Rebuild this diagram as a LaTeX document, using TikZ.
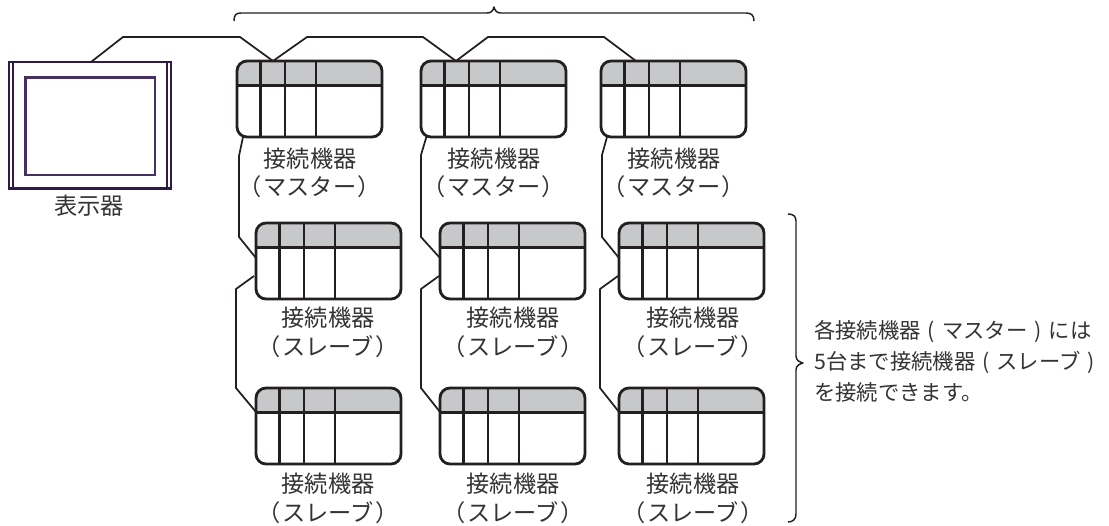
\documentclass[tikz,border=0pt]{standalone}
\usepackage{fontspec}
\setmainfont{Noto Sans CJK JP}
\definecolor{ink}{HTML}{231F20}
\definecolor{txt}{HTML}{333333}
\definecolor{band}{HTML}{C6C8CA}
\definecolor{frame}{HTML}{2E1A47}
\definecolor{framein}{HTML}{45305F}
\tikzset{
  x=0.75pt,y=-0.75pt,
  boxline/.style={draw=ink,line width=2.1pt},
  cellline/.style={draw=ink,line width=1.8pt},
  wire/.style={draw=ink,line width=1.3pt,line join=round},
  brace/.style={draw=ink,line width=1.1pt,line join=round},
  devshape/.style={rectangle,minimum width=108.75pt,minimum height=57pt,inner sep=0pt,outer sep=0pt},
  lbl/.style={font=\fontsize{17.4}{20}\selectfont,text=txt,inner sep=0pt,anchor=center},
  note/.style={font=\fontsize{16}{18}\selectfont,text=txt,inner sep=0pt,anchor=west},
}
\newcommand{\notegap}{\hspace{5.25pt}}
\newcommand{\lblgap}{\kern1.1pt{}}
% name, left x, top y
\newcommand{\devbox}[3]{%
  \node[devshape,anchor=north west] (#1) at (#2,#3) {};
  \begin{scope}[shift={(#2,#3)}]
    \begin{scope}
      \clip (0,0) rectangle (145,24.5);
      \fill[band,rounded corners=7.5pt] (0,0) rectangle (145,76);
    \end{scope}
    \draw[cellline] (0,24.5) -- (145,24.5);
    \draw[cellline] (23.5,0) -- (23.5,76);
    \draw[cellline] (48,0) -- (48,76);
    \draw[cellline] (79,0) -- (79,76);
    \draw[boxline,rounded corners=7.5pt] (0,0) rectangle (145,76);
  \end{scope}}
\begin{document}
\begin{tikzpicture}
\useasboundingbox (0,0) rectangle (1109,525);
\fill[white] (0,0) rectangle (1109,525);

% display
\node[rectangle,minimum width=121.5pt,minimum height=95.25pt,inner sep=0pt,outer sep=0pt,anchor=north west] (disp) at (9,62) {};
\draw[frame,line width=1.3pt] (9,62) rectangle (171,189);
\draw[frame,line width=2pt] (9,62) -- (171,62) (9,188.5) -- (171,188.5);
\draw[frame,line width=1pt] (13,62) -- (13,189) (167,62) -- (167,189);
\draw[framein,line width=2.2pt] (25.5,77.5) rectangle (155,175);
\node[lbl] (dispL) at (89,206) {表示器};

% devices
\devbox{m1}{237}{61}
\devbox{m2}{421}{61}
\devbox{m3}{601}{61}
\devbox{sa1}{256}{223}
\devbox{sa2}{440}{223}
\devbox{sa3}{619}{223}
\devbox{sb1}{256}{388}
\devbox{sb2}{440}{388}
\devbox{sb3}{619}{388}

% labels
\node[lbl] (m1a) at (310,159) {接続機器};
\node[lbl] (m1b) at (310,187) {（\lblgap マスター\lblgap ）};
\node[lbl] (m2a) at (494,159) {接続機器};
\node[lbl] (m2b) at (494,187) {（\lblgap マスター\lblgap ）};
\node[lbl] (m3a) at (674,159) {接続機器};
\node[lbl] (m3b) at (674,187) {（\lblgap マスター\lblgap ）};
\node[lbl] (sa1a) at (328,318) {接続機器};
\node[lbl] (sa1b) at (328,347) {（\lblgap スレーブ\lblgap ）};
\node[lbl] (sa2a) at (513,318) {接続機器};
\node[lbl] (sa2b) at (513,347) {（\lblgap スレーブ\lblgap ）};
\node[lbl] (sa3a) at (693,318) {接続機器};
\node[lbl] (sa3b) at (693,347) {（\lblgap スレーブ\lblgap ）};
\node[lbl] (sb1a) at (328,484) {接続機器};
\node[lbl] (sb1b) at (328,513) {（\lblgap スレーブ\lblgap ）};
\node[lbl] (sb2a) at (513,484) {接続機器};
\node[lbl] (sb2b) at (513,513) {（\lblgap スレーブ\lblgap ）};
\node[lbl] (sb3a) at (693,484) {接続機器};
\node[lbl] (sb3b) at (693,513) {（\lblgap スレーブ\lblgap ）};

% bus along the top
\draw[wire] ([xshift=61.5pt]disp.north west) -- (123,37) -- (240,37) -- ([xshift=27pt]m1.north west)
  -- (307,37) -- (423,37) -- ([xshift=26.25pt]m2.north west)
  -- (488,37) -- (604,37) -- ([xshift=26.25pt]m3.north west);

% master to first slave
\draw[wire] ([xshift=4.5pt]m1.south west) -- (239,156) -- (239,237) -- ([yshift=2.25pt]sa1.west);
\draw[wire] ([xshift=4pt]m2.south west) -- (421,155) -- (421,237) -- ([yshift=2.25pt]sa2.west);
\draw[wire] ([xshift=4.5pt]m3.south west) -- (602,155) -- (602,237) -- ([yshift=2.25pt]sa3.west);
% first slave to second slave
\draw[wire] ([xshift=-1.5pt,yshift=-11.25pt]sa1.west) -- (236,289) -- (236,388) -- ([yshift=10.5pt]sb1.west);
\draw[wire] ([xshift=-0.75pt,yshift=-11.25pt]sa2.west) -- (421,289) -- (421,388) -- ([yshift=10.5pt]sb2.west);
\draw[wire] ([xshift=-0.75pt,yshift=-11.25pt]sa3.west) -- (600,289) -- (600,388) -- ([yshift=10.5pt]sb3.west);

% braces
\draw[brace] (234,21) .. controls (234,15) and (236,13) .. (241,13) -- (487,13) .. controls (491,13) and (493,11) .. (494,7) .. controls (495,11) and (497,13) .. (501,13) -- (746,13) .. controls (751,13) and (754,15) .. (754,21);
\draw[brace] (788,214) .. controls (793,214) and (796,216) .. (796,221) -- (796,356) .. controls (796,360) and (799,362) .. (803,363) .. controls (799,364) and (796,366) .. (796,370) -- (796,514) .. controls (796,519) and (793,522) .. (788,522);

% note
\node[note] (n1) at (814,332) {各接続機器\notegap (\notegap マスター\notegap )\notegap には};
\node[note] (n2) at (814,362) {5台まで接続機器\notegap (\notegap スレーブ\notegap )};
\node[note] (n3) at (814,392) {を接続できます。};
\end{tikzpicture}
\end{document}
